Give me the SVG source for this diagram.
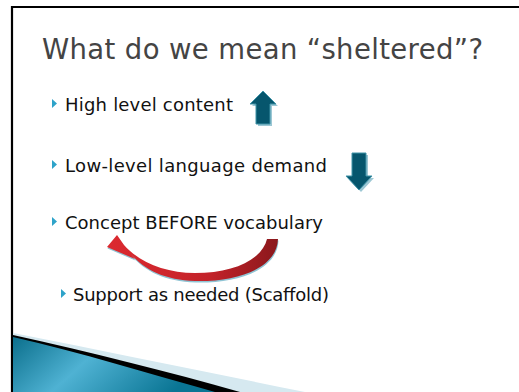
<svg xmlns="http://www.w3.org/2000/svg" width="519" height="392" viewBox="0 0 519 392">
<style>
.title{font-family:"DejaVu Sans","Liberation Sans",sans-serif;font-size:27.5px;fill:#444}
.body{font-family:"DejaVu Sans","Liberation Sans",sans-serif;font-size:18px;fill:#111}
.bullet{fill:#2ea3c9}
.blue{fill:#06566d;stroke:#3f93a8;stroke-width:1}
</style>
<defs>
<linearGradient id="teal" x1="0" y1="0" x2="1" y2="0.3">
<stop offset="0" stop-color="#0b6f8c"/>
<stop offset="0.45" stop-color="#4fb2d3"/>
<stop offset="1" stop-color="#0a7594"/>
</linearGradient>
<linearGradient id="red" x1="0" y1="0" x2="1" y2="0">
<stop offset="0" stop-color="#dc2a30"/>
<stop offset="0.6" stop-color="#c32229"/>
<stop offset="1" stop-color="#8a181c"/>
</linearGradient>
</defs>
<rect width="519" height="392" fill="#fff"/>
<g id="frame">
<path d="M12 392 V7 H519" fill="none" stroke="#000" stroke-width="2.2"/>
</g>
<g id="swoosh">
<path d="M13 333 C 110 352 210 373 305 392 L13 392 Z" fill="#d6e9f0"/>
<path d="M13 335 C 90 352 170 372 240 392 L13 392 Z" fill="#000"/>
<path d="M13 337 C 80 352 150 374 215 392 L13 392 Z" fill="url(#teal)"/>
</g>
<g id="title">
<text class="title" x="42" y="59" textLength="441" lengthAdjust="spacing">What do we mean “sheltered”?</text>
</g>
<g id="item1">
<path class="bullet" d="M52 99 L57 103.5 L52 108 Z"/>
<text class="body" x="65" y="111" textLength="168" lengthAdjust="spacing">High level content</text>
</g>
<g id="item2">
<path class="bullet" d="M52 160 L57 164.5 L52 169 Z"/>
<text class="body" x="65" y="172" textLength="262" lengthAdjust="spacing">Low-level language demand</text>
</g>
<g id="item3">
<path class="bullet" d="M52 217 L57 221.5 L52 226 Z"/>
<text class="body" x="65" y="229" textLength="258" lengthAdjust="spacing">Concept BEFORE vocabulary</text>
</g>
<g id="item4">
<path class="bullet" d="M61 289 L66 293.5 L61 298 Z"/>
<text class="body" x="73" y="301" textLength="256" lengthAdjust="spacing">Support as needed (Scaffold)</text>
</g>
<g id="connectors">
<g id="up-arrow">
<path d="M264 92 L277 105 L271 105 L271 125 L257 125 L257 105 L251 105 Z" fill="#9cc7d4" transform="translate(1,1)"/>
<path class="blue" d="M263 91 L276 104 L270 104 L270 124 L256 124 L256 104 L250 104 Z"/>
</g>
<g id="down-arrow">
<path d="M353 154 L367 154 L367 177 L373 177 L360 191 L347 177 L353 177 Z" fill="#9cc7d4" transform="translate(1,1)"/>
<path class="blue" d="M352 153 L366 153 L366 176 L372 176 L359 190 L346 176 L352 176 Z"/>
</g>
<g id="curved-arrow">
<path d="M278 239 C 277 268 238 282 195 281 C 165 280 144 270 130 253 L 135 259 L 107 247 L 117 235 L 124 245 C 139 262 165 273 195 273 C 233 273 262 260 267 239 Z" fill="#8fc4d4" transform="translate(0.5,1.5)"/>
<path d="M278 239 C 277 268 238 282 195 281 C 165 280 144 270 130 253 L 135 259 L 107 247 L 117 235 L 124 245 C 139 262 165 273 195 273 C 233 273 262 260 267 239 Z" fill="url(#red)"/>
</g>
</g>
</svg>
